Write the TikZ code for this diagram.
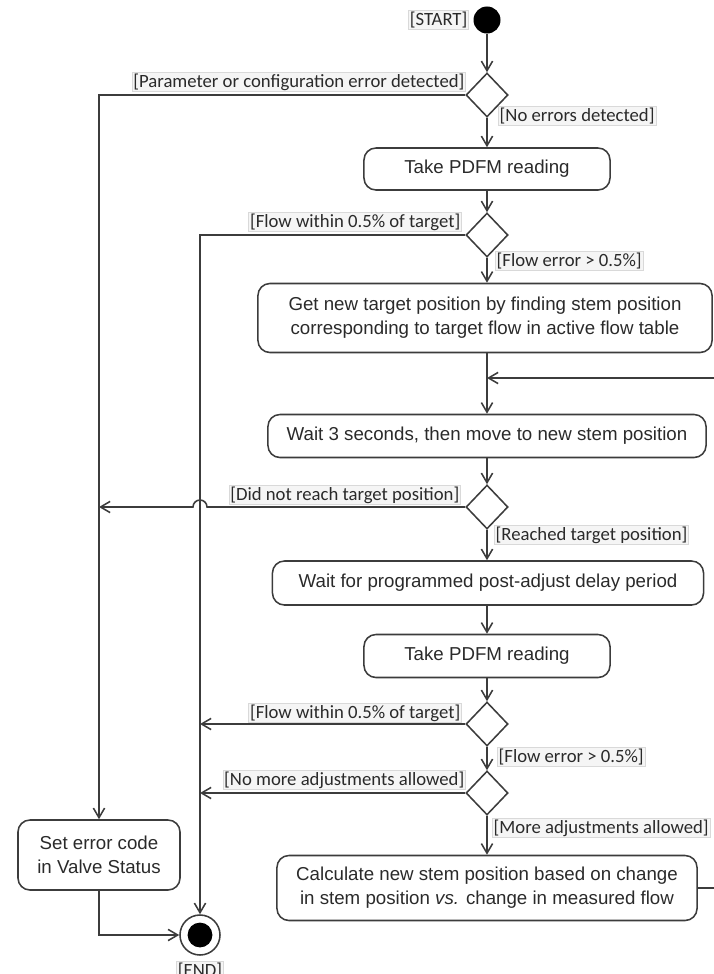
\documentclass[tikz,border=0pt]{standalone}
\usepackage{fontspec}
\setmainfont{Liberation Sans}
\newfontfamily\guardfont{Carlito}
\usetikzlibrary{positioning,arrows.meta,shapes.geometric}
\definecolor{lineclr}{HTML}{3C3C3C}
\definecolor{txtclr}{HTML}{2A2A2A}

\begin{document}
\begin{tikzpicture}[
  x=0.025cm, y=-0.025cm,
  >={Straight Barb[length=2.4mm,width=2.8mm]},
  flow/.style={draw=lineclr, line width=1.1pt},
  act/.style={draw=lineclr, line width=1.1pt, rounded corners=3mm, align=center, inner sep=0pt, text=txtclr, font=\fontsize{13.3}{17}\selectfont},
  dec/.style={draw=lineclr, line width=1.1pt, diamond, minimum width=10.5mm, minimum height=11mm, inner sep=0pt},
  guard/.style={fill=black!4, draw=black!15, line width=0.4pt, inner sep=1pt, text=txtclr, font=\guardfont\fontsize{13.3}{15}\selectfont}
]
\useasboundingbox (0,0) rectangle (714,974);
\clip (0,0) rectangle (714,974);

\node[circle, fill=black, minimum size=6.75mm, inner sep=0pt] (start) at (487,20) {};
\node[dec] (dec1) at (487,95) {};
\node[act, minimum width=61.5mm, minimum height=10.5mm] (take1) at (487,169) {Take PDFM reading};
\node[dec] (dec2) at (487,235) {};
\node[act, minimum width=113.5mm, minimum height=17.25mm] (target) at (485,318) {Get new target position by finding stem position\\corresponding to target flow in active flow table};
\coordinate (join) at (487,378);
\node[act, minimum width=109.5mm, minimum height=10.75mm] (wait3) at (487,436) {Wait 3 seconds, then move to new stem position};
\node[dec] (dec3) at (487,507) {};
\node[act, minimum width=107.75mm, minimum height=11mm] (waitpost) at (488,583) {Wait for programmed post-adjust delay period};
\node[act, minimum width=61.5mm, minimum height=10.75mm] (take2) at (487,656) {Take PDFM reading};
\node[dec] (dec4) at (487,724) {};
\node[dec] (dec5) at (487,793) {};
\node[act, minimum width=105mm, minimum height=16.25mm] (calc) at (487,888) {Calculate new stem position based on change\\in stem position \emph{vs.} change in measured flow};
\node[act, minimum width=40.5mm, minimum height=17.5mm] (err) at (99,855) {Set error code\\in Valve Status};
\node[circle, draw=lineclr, line width=1.1pt, minimum size=10mm, inner sep=0pt,
  path picture={\fill[black] (path picture bounding box.center) circle (3.1mm);}] (end) at (200,935) {};
\coordinate (hop) at (207,507);
\coordinate (loopR) at (722,888);

\node[guard, anchor=east] (gstart) at (469,20) {[START]};
\node[guard, anchor=north] (gend) at (200,961) {[END]};
\node[guard, anchor=east] (gerr) at (466,82) {[Parameter or configuration error detected]};
\node[guard, anchor=west] (gok) at (498,116) {[No errors detected]};
\node[guard, anchor=east] (gin1) at (462,222) {[Flow within 0.5\% of target]};
\node[guard, anchor=west] (gout1) at (495,261) {[Flow error > 0.5\%]};
\node[guard, anchor=east] (gmiss) at (461,495) {[Did not reach target position]};
\node[guard, anchor=west] (ghit) at (494,535) {[Reached target position]};
\node[guard, anchor=east] (gin2) at (462,713) {[Flow within 0.5\% of target]};
\node[guard, anchor=west] (gout2) at (497,757) {[Flow error > 0.5\%]};
\node[guard, anchor=east] (gnomore) at (466,780) {[No more adjustments allowed]};
\node[guard, anchor=west] (gmore) at (492,828) {[More adjustments allowed]};

\draw[flow,->] (start) -- (dec1);
\draw[flow,->] (dec1) -- (take1);
\draw[flow,->] (take1) -- (dec2);
\draw[flow,->] (dec2) -- (dec2 |- target.north);
\draw[flow] (target.south -| join) -- (join);
\draw[flow,->] (join) -- (wait3);
\draw[flow,->] (wait3) -- (dec3);
\draw[flow,->] (dec3) -- (dec3 |- waitpost.north);
\draw[flow,->] (waitpost.south -| take2) -- (take2);
\draw[flow,->] (take2) -- (dec4);
\draw[flow,->] (dec4) -- (dec5);
\draw[flow,->] (dec5) -- (calc);
\draw[flow,->] (calc.east) -- (loopR) |- (join);

\draw[flow,->] (dec1.west) -| (err.north);
\draw[flow,->] (dec2.west) -| (end.north);
\draw[flow,->] (dec3.west) -- (hop) arc[start angle=0, end angle=180, radius=1.75mm] -- (err.north |- dec3.west);
\draw[flow,->] (dec4.west) -- (end.north |- dec4.west);
\draw[flow,->] (dec5.west) -- (end.north |- dec5.west);
\draw[flow,->] (err.south) |- (end.west);
\end{tikzpicture}
\end{document}
